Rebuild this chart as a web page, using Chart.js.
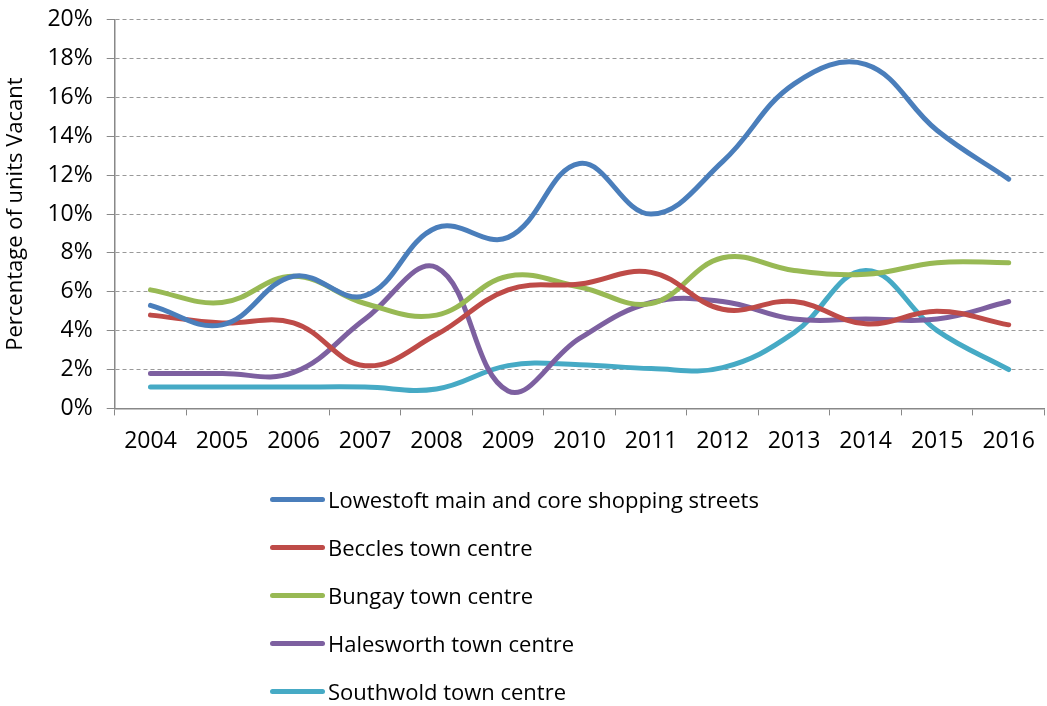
<!DOCTYPE html>
<html>
<head>
<meta charset="utf-8">
<script src="https://cdn.jsdelivr.net/npm/chart.js@4"></script>
<style>
  html, body { margin: 0; padding: 0; background: #fff; }
  #wrap { position: relative; width: 1047px; height: 706px; }
  #legend { position: absolute; left: 270px; top: 475px; font-family: 'Open Sans', sans-serif; font-size: 22px; color: #000; }
  #legend .item { height: 48px; display: flex; align-items: center; }
  #legend .swatch { width: 55px; height: 5px; border-radius: 3px; margin-right: 3px; }
</style>
</head>
<body>
<div id="wrap">
  <canvas id="chart" width="1047" height="706"></canvas>
  <div id="legend"></div>
</div>
<script>
/* Vacancy rates, smoothed lines. */
const years = ['2004', '2005', '2006', '2007', '2008', '2009', '2010', '2011', '2012', '2013', '2014', '2015', '2016'];
const lowestoft  = [5.3, 4.3, 6.8, 5.8, 9.3, 8.8, 12.6, 10.0, 12.7, 16.7, 17.7, 14.3, 11.8];
const beccles    = [4.8, 4.4, 4.4, 2.2, 3.8, 6.1, 6.4, 7.0, 5.1, 5.5, 4.35, 5.0, 4.3];
const bungay     = [6.1, 5.45, 6.8, 5.4, 4.8, 6.8, 6.25, 5.4, 7.75, 7.1, 6.9, 7.5, 7.5];
const halesworth = [1.8, 1.8, 1.85, 4.6, 7.25, 0.9, 3.6, 5.45, 5.5, 4.6, 4.6, 4.6, 5.5];
const southwold  = [1.1, 1.1, 1.1, 1.1, 1.0, 2.2, 2.25, 2.05, 2.1, 3.9, 7.1, 4.0, 2.0];

const series = [
    { label: 'Lowestoft main and core shopping streets', data: lowestoft,  color: '#4a7ebb' },
    { label: 'Beccles town centre',                      data: beccles,    color: '#be4b48' },
    { label: 'Bungay town centre',                       data: bungay,     color: '#98b954' },
    { label: 'Halesworth town centre',                   data: halesworth, color: '#7d60a0' },
    { label: 'Southwold town centre',                    data: southwold,  color: '#46aac5' },
];

const font = { family: "'Open Sans', sans-serif", size: 23 };

new Chart(document.getElementById('chart'), {
    type: 'line',
    data: {
        labels: years,
        datasets: series.map(s => ({
            label: s.label,
            data: s.data,
            borderColor: s.color,
            backgroundColor: s.color,
            borderWidth: 5,
            borderCapStyle: 'round',
            pointRadius: 0,
            tension: 0.4,
            fill: false,
        })),
    },
    options: {
        responsive: false,
        animation: false,
        layout: { padding: { top: 0, right: 0, bottom: 239, left: -1 } },
        plugins: { legend: { display: false }, tooltip: { enabled: false } },
        scales: {
            x: {
                offset: true,
                grid: { offset: true, drawOnChartArea: false, color: '#888', tickLength: 7 },
                border: { color: '#888', width: 1.5 },
                ticks: { font: font, color: '#000', padding: 12, maxRotation: 0 },
            },
            y: {
                min: 0,
                max: 20,
                ticks: { stepSize: 2, font: { family: font.family, size: 23, lineHeight: 0.5 }, color: '#000', padding: 14, callback: v => v + '%' },
                grid: { color: '#999', tickLength: 8, tickColor: '#888', tickBorderDash: [] },
                border: { color: '#888', width: 1.5, dash: [4, 3] },
                title: { display: true, text: 'Percentage of units Vacant', font: { family: "'Open Sans', sans-serif", size: 22 }, color: '#000', padding: 4 },
            },
        },
    },
});

const legend = document.getElementById('legend');
series.forEach(s => {
    const row = document.createElement('div');
    row.className = 'item';
    const sw = document.createElement('span');
    sw.className = 'swatch';
    sw.style.background = s.color;
    const txt = document.createElement('span');
    txt.textContent = s.label;
    row.appendChild(sw);
    row.appendChild(txt);
    legend.appendChild(row);
});
</script>
</body>
</html>
